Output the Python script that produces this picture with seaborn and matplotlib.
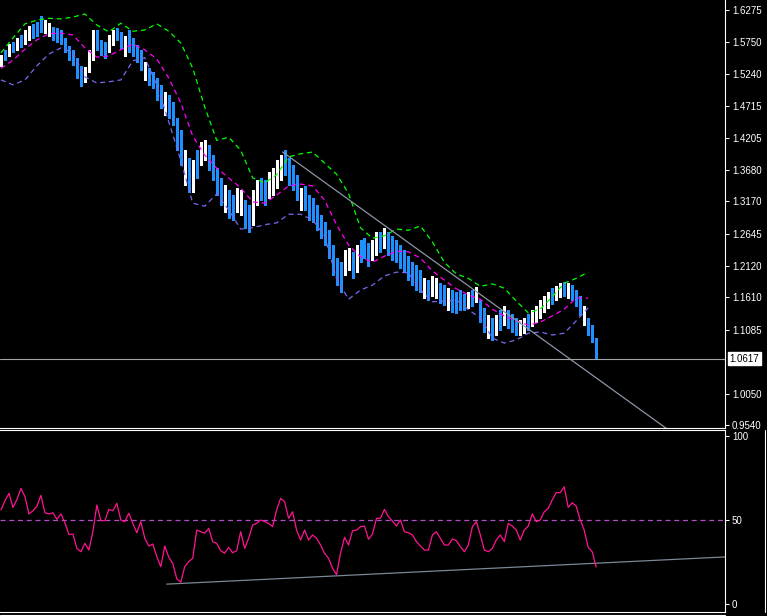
import numpy as np
import pandas as pd
import matplotlib
matplotlib.use("Agg")
import matplotlib.pyplot as plt
import matplotlib.transforms as mtransforms
from matplotlib.lines import Line2D
import seaborn as sns


# price bars (one per bar index)
highs = [
    1.554, 1.563, 1.572, 1.576, 1.582, 1.587, 1.595, 1.601, 1.605, 1.608,
    1.618, 1.611, 1.606, 1.600, 1.598, 1.595, 1.582, 1.569, 1.563, 1.550,
    1.537, 1.535, 1.563, 1.595, 1.595, 1.579, 1.576, 1.587, 1.595, 1.598,
    1.592, 1.585, 1.595, 1.582, 1.571, 1.563, 1.543, 1.533, 1.527, 1.517,
    1.506, 1.494, 1.490, 1.478, 1.452, 1.433, 1.400, 1.387, 1.384, 1.400,
    1.413, 1.416, 1.408, 1.392, 1.371, 1.355, 1.343, 1.335, 1.327, 1.339,
    1.335, 1.319, 1.311, 1.335, 1.352, 1.355, 1.352, 1.365, 1.371, 1.384,
    1.392, 1.400, 1.387, 1.376, 1.360, 1.339, 1.342, 1.327, 1.322, 1.311,
    1.295, 1.283, 1.270, 1.246, 1.225, 1.218, 1.238, 1.241, 1.235, 1.246,
    1.254, 1.257, 1.249, 1.254, 1.267, 1.267, 1.274, 1.267, 1.261, 1.254,
    1.246, 1.238, 1.228, 1.218, 1.214, 1.205, 1.193, 1.189, 1.196, 1.193,
    1.184, 1.181, 1.176, 1.173, 1.170, 1.173, 1.167, 1.170, 1.173, 1.178,
    1.157, 1.144, 1.132, 1.128, 1.132, 1.141, 1.147, 1.141, 1.134, 1.128,
    1.124, 1.128, 1.134, 1.141, 1.147, 1.157, 1.163, 1.170, 1.176, 1.179,
    1.184, 1.186, 1.184, 1.181, 1.173, 1.163, 1.147, 1.128, 1.116, 1.095,
]
lows = [
    1.536, 1.546, 1.553, 1.559, 1.563, 1.567, 1.572, 1.579, 1.582, 1.585,
    1.592, 1.590, 1.585, 1.579, 1.576, 1.572, 1.559, 1.546, 1.538, 1.517,
    1.504, 1.511, 1.527, 1.546, 1.563, 1.554, 1.550, 1.559, 1.571, 1.579,
    1.566, 1.553, 1.559, 1.553, 1.543, 1.530, 1.514, 1.506, 1.501, 1.481,
    1.468, 1.457, 1.452, 1.441, 1.400, 1.376, 1.343, 1.332, 1.332, 1.355,
    1.376, 1.384, 1.368, 1.352, 1.327, 1.311, 1.300, 1.290, 1.287, 1.300,
    1.295, 1.274, 1.267, 1.279, 1.311, 1.319, 1.311, 1.322, 1.327, 1.339,
    1.352, 1.360, 1.343, 1.335, 1.319, 1.303, 1.303, 1.287, 1.283, 1.270,
    1.257, 1.246, 1.225, 1.197, 1.181, 1.170, 1.197, 1.205, 1.193, 1.202,
    1.218, 1.225, 1.212, 1.222, 1.230, 1.235, 1.241, 1.230, 1.222, 1.218,
    1.209, 1.202, 1.189, 1.181, 1.173, 1.170, 1.160, 1.157, 1.163, 1.160,
    1.152, 1.149, 1.141, 1.137, 1.136, 1.141, 1.141, 1.144, 1.147, 1.153,
    1.121, 1.105, 1.095, 1.092, 1.100, 1.108, 1.116, 1.111, 1.105, 1.100,
    1.100, 1.103, 1.108, 1.115, 1.121, 1.128, 1.137, 1.144, 1.150, 1.157,
    1.162, 1.163, 1.160, 1.157, 1.147, 1.132, 1.116, 1.100, 1.089, 1.063,
]
# W = up bar, B = down bar
bar_dirs = ("WBWBWBWWBB" "BWWBBBBBBB" "BWWWBBBWWB" "BWBBBBWBBB" "BWBBBBWBWB"
            "WWBBBBWBBW" "WBBWWBBWWW" "WBBBBWBBBB" "BBBBBBWWBW" "BBBWWBWBBB"
            "BBBBBBWBWW" "BBWBBBBWBW" "BBWBWBWBBB" "WWBWWWWWBW" "WBWBBBWBBB")

# bands, one value every 3 bars
band_step = 3
upper_band = [
    1.558, 1.582, 1.605, 1.611, 1.614, 1.613, 1.616, 1.621, 1.603, 1.592,
    1.606, 1.593, 1.595, 1.605, 1.593, 1.574, 1.533, 1.470, 1.416, 1.421,
    1.400, 1.355, 1.347, 1.360, 1.389, 1.394, 1.397, 1.379, 1.361, 1.330,
    1.274, 1.257, 1.261, 1.272, 1.270, 1.277, 1.251, 1.218, 1.199, 1.192,
    1.179, 1.183, 1.176, 1.155, 1.136, 1.142, 1.162, 1.184, 1.192, 1.202,
]
middle_band = [
    1.533, 1.546, 1.564, 1.579, 1.589, 1.590, 1.587, 1.566, 1.551, 1.553,
    1.563, 1.572, 1.563, 1.548, 1.517, 1.477, 1.423, 1.392, 1.371, 1.355,
    1.339, 1.316, 1.314, 1.327, 1.342, 1.345, 1.342, 1.319, 1.279, 1.246,
    1.227, 1.218, 1.228, 1.236, 1.235, 1.225, 1.204, 1.189, 1.175, 1.165,
    1.158, 1.142, 1.131, 1.123, 1.116, 1.121, 1.131, 1.142, 1.160, 1.160,
]
lower_band = [
    1.514, 1.506, 1.514, 1.537, 1.556, 1.566, 1.558, 1.519, 1.509, 1.511,
    1.514, 1.545, 1.550, 1.506, 1.446, 1.384, 1.314, 1.309, 1.329, 1.303,
    1.272, 1.274, 1.279, 1.282, 1.296, 1.296, 1.287, 1.261, 1.192, 1.158,
    1.173, 1.181, 1.196, 1.202, 1.201, 1.173, 1.154, 1.155, 1.157, 1.141,
    1.128, 1.095, 1.087, 1.092, 1.103, 1.105, 1.100, 1.103, 1.123, 1.144,
]

# oscillator, one value per bar
rsi = [
    56.0, 61.5, 65.9, 57.5, 62.3, 68.8, 63.9, 53.6, 55.5, 58.3,
    64.7, 54.3, 53.6, 54.3, 50.4, 53.6, 48.4, 41.4, 41.6, 33.1,
    31.1, 36.1, 32.1, 43.0, 58.9, 49.6, 49.6, 56.3, 55.5, 59.9,
    50.0, 49.0, 54.0, 48.0, 42.4, 49.0, 39.1, 34.5, 35.7, 28.2,
    22.2, 34.5, 27.8, 24.2, 15.0, 13.0, 22.2, 25.2, 27.2, 44.0,
    43.0, 42.1, 45.0, 37.1, 36.1, 31.7, 30.2, 33.7, 30.5, 31.7,
    43.0, 33.1, 39.1, 47.0, 48.0, 50.0, 49.0, 48.0, 46.0, 56.0,
    62.9, 60.9, 51.0, 54.9, 44.0,
    38.1, 44.0, 38.1, 41.1, 39.1, 35.1, 30.2, 27.2, 21.2, 17.5,
    30.2, 39.7, 35.1, 43.6, 44.0, 46.0, 46.4, 38.5, 41.6, 51.0,
    51.0, 56.3, 52.0, 49.4, 46.4, 50.0, 43.0, 42.4, 41.1, 37.1,
    34.5, 32.1, 32.1, 41.1, 43.0, 39.1, 35.1, 35.1, 38.7, 37.7,
    34.1, 31.1, 35.1, 46.0, 49.0, 41.1, 32.1, 31.1, 33.1, 38.1,
    41.1, 37.1, 48.0, 46.4, 44.0, 38.1, 44.0, 46.4, 53.6, 49.0,
    50.0, 54.9, 56.9, 61.9, 66.3, 66.3, 69.8, 57.5, 60.3, 58.3,
    50.0, 44.0, 33.7, 31.1, 22.0,
]

price_ticks = [1.6275, 1.5750, 1.5240, 1.4715, 1.4205, 1.3680, 1.3170,
               1.2645, 1.2120, 1.1610, 1.1085, 1.0050, 0.9540]
rsi_ticks = [0, 50, 100]
rsi_level = 50
last_price = 1.0617
price_trend_idx = [70.5, 181.0]
price_trend_val = [1.397, 0.881]
rsi_trend_idx = [41.5, 181.25]
rsi_trend_val = [11.8, 28.0]

sns.set_theme(style="dark", rc={
    "axes.facecolor": "black", "figure.facecolor": "black",
    "axes.edgecolor": "white", "axes.grid": False,
})
plt.rcParams['font.family'] = ['Liberation Sans', 'DejaVu Sans']

LW = 0.9
fig = plt.figure(figsize=(7.67, 6.16), dpi=100)
W, H = 767, 616
ax = fig.add_axes([0, 1 - 428 / H, 725 / W, 428 / H])
ax2 = fig.add_axes([0, 1 - 612 / H, 725 / W, 182 / H])

bars = pd.DataFrame({"idx": np.arange(len(highs)), "high": highs, "low": lows,
                     "dir": list(bar_dirs)})
bar_colors = ["white" if d == "W" else "#1e90ff" for d in bars["dir"]]
# crisp one-pixel bars
ax.vlines(bars["idx"], bars["low"], bars["high"], colors=bar_colors, lw=0.75,
          antialiased=False)

bands = pd.DataFrame({"idx": np.arange(0, len(highs), band_step)[:len(upper_band)],
                      "upper": upper_band, "middle": middle_band, "lower": lower_band})
dash = (0, (4, 3))
sns.lineplot(data=bands, x="idx", y="upper", ax=ax, color="#00ff00", lw=LW, linestyle=dash)
sns.lineplot(data=bands, x="idx", y="middle", ax=ax, color="#ff00ff", lw=LW, linestyle=dash)
sns.lineplot(data=bands, x="idx", y="lower", ax=ax, color="#7b68ee", lw=LW, linestyle=dash)

sns.lineplot(x=price_trend_idx, y=price_trend_val, ax=ax, color="#8a96a6", lw=LW)
ax.axhline(last_price, color="#a0a4a8", lw=0.8)

ax.set_xlim(-0.25, 181.25)
ax.set_ylim(0.9491, 1.6437)
ax.yaxis.tick_right()
ax.set_yticks(price_ticks)
ax.set_yticklabels([f"{t:.4f}" for t in price_ticks])
ax.set_xticks([])
ax.set_xlabel("")
ax.set_ylabel("")
ax.tick_params(axis="y", colors="white", labelcolor="white", length=3, width=0.75,
               pad=2, labelsize=7, right=True, left=False)
for side in ["top", "left"]:
    ax.spines[side].set_visible(False)
for side in ["right", "bottom"]:
    ax.spines[side].set_color("white")
    ax.spines[side].set_linewidth(0.8)

trans = mtransforms.blended_transform_factory(ax.transAxes, ax.transData)
ax.text(1.006, last_price, f"{last_price:.4f}", transform=trans, va="center", ha="left",
        fontsize=7, color="black", bbox=dict(fc="white", ec="white", pad=1.2))

# oscillator pane
osc = pd.DataFrame({"idx": np.arange(len(rsi)), "rsi": rsi})
ax2.axhline(rsi_level, color="#b04cc8", lw=LW, linestyle=dash)
sns.lineplot(x=rsi_trend_idx, y=rsi_trend_val, ax=ax2, color="#7a8796", lw=LW)
sns.lineplot(data=osc, x="idx", y="rsi", ax=ax2, color="#ff1493", lw=LW)

ax2.set_xlim(-0.25, 181.25)
ax2.set_ylim(-4.8, 103.6)
ax2.yaxis.tick_right()
ax2.set_yticks(rsi_ticks)
ax2.set_xticks([])
ax2.set_xlabel("")
ax2.set_ylabel("")
ax2.tick_params(axis="y", colors="white", labelcolor="white", length=3, width=0.75,
                pad=2, labelsize=7, right=True, left=False)
ax2.spines["left"].set_visible(False)
for side in ["right", "top", "bottom"]:
    ax2.spines[side].set_color("white")
    ax2.spines[side].set_linewidth(0.8)

fig.add_artist(Line2D([0, 725 / W], [1 - 614.5 / H] * 2, color="white", lw=0.8,
                      transform=fig.transFigure))
fig.add_artist(Line2D([765 / W] * 2, [1 - 430 / H, 1 - 612 / H], color="white", lw=0.8,
                      transform=fig.transFigure))

fig.savefig("out.png", dpi=100, facecolor="black")
